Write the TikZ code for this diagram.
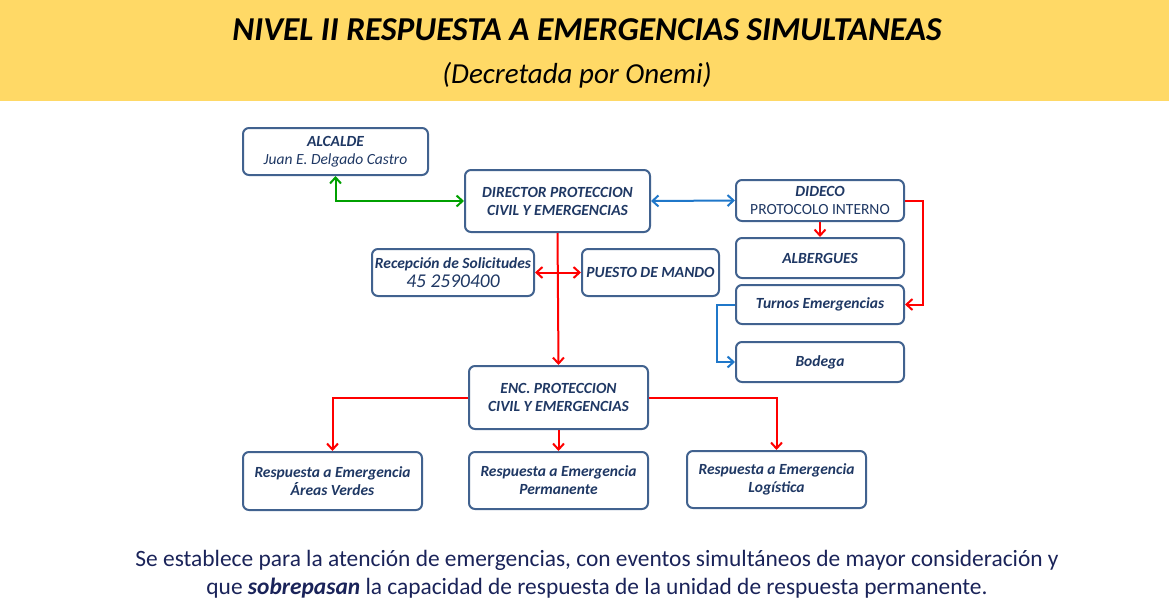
\documentclass[tikz,border=0pt]{standalone}
\usepackage{fontspec}
\setmainfont{Carlito}
\usetikzlibrary{arrows.meta, positioning}
\definecolor{hdYellow}{HTML}{FFD966}
\definecolor{boxEdge}{HTML}{41628F}
\definecolor{boxText}{HTML}{1F3864}
\definecolor{lnRed}{HTML}{FF0000}
\definecolor{lnGreen}{HTML}{00A000}
\definecolor{lnBlue}{HTML}{1F77C9}
\definecolor{bodyText}{HTML}{1A2359}
\tikzset{
  unitbox/.style  = {draw=boxEdge, line width=2pt, rounded corners=6pt, fill=white,
                     text=boxText, align=center, inner sep=0pt,
                     font=\fontsize{15.5}{18}\selectfont\bfseries\itshape},
  redline/.style  = {lnRed, line width=2pt, -{Straight Barb[length=6pt,width=11pt]}},
  redboth/.style  = {lnRed, line width=2pt, {Straight Barb[length=6pt,width=11pt]}-{Straight Barb[length=6pt,width=11pt]}},
  blueline/.style = {lnBlue, line width=2pt, -{Straight Barb[length=6pt,width=11pt]}},
  blueboth/.style = {lnBlue, line width=2pt, {Straight Barb[length=6pt,width=11pt]}-{Straight Barb[length=6pt,width=11pt]}},
  greenboth/.style= {lnGreen, line width=2pt, {Straight Barb[length=6pt,width=11pt]}-{Straight Barb[length=6pt,width=11pt]}},
}

\begin{document}
\begin{tikzpicture}[x=1pt,y=-1pt]
  \useasboundingbox (0,0) rectangle (1169,608);
  % header band
  \fill[hdYellow] (0,0) rectangle (1169,101);
  \node[font=\fontsize{33.4}{38}\selectfont\bfseries\itshape] (title) at (587,30)
    {NIVEL II RESPUESTA A EMERGENCIAS SIMULTANEAS};
  \node[font=\fontsize{29}{34}\selectfont\itshape] (subtitle) at (577,75)
    {(Decretada por Onemi)};

  % boxes
  \node[unitbox, minimum width=185pt, minimum height=47pt] (alcalde) at (335.5,151.5)
    {ALCALDE\\{\mdseries Juan E. Delgado Castro}};
  \node[unitbox, minimum width=185pt, minimum height=62pt] (director) at (557.5,201)
    {DIRECTOR PROTECCION\\CIVIL Y EMERGENCIAS};
  \node[unitbox, minimum width=168pt, minimum height=41pt] (dideco) at (820,200.5)
    {DIDECO\\{\mdseries\upshape PROTOCOLO INTERNO}};
  \node[unitbox, minimum width=168pt, minimum height=40pt] (albergues) at (820,258)
    {ALBERGUES};
  \node[unitbox, minimum width=168pt, minimum height=39pt] (turnos) at (820,304.5)
    {Turnos Emergencias};
  \node[unitbox, minimum width=168pt, minimum height=40pt] (bodega) at (820,362)
    {Bodega};
  \node[unitbox, minimum width=162pt, minimum height=47pt] (recepcion) at (453,272.5)
    {Recepción de Solicitudes\\[1pt]{\fontsize{19.5}{20}\selectfont\mdseries 45 2590400}};
  \node[unitbox, minimum width=137pt, minimum height=47pt] (puesto) at (650.5,272.5)
    {PUESTO DE MANDO};
  \node[unitbox, minimum width=179pt, minimum height=63pt] (enc) at (558.5,397.5)
    {ENC. PROTECCION\\CIVIL Y EMERGENCIAS};
  \node[unitbox, minimum width=179pt, minimum height=58pt] (verdes) at (332.5,481)
    {Respuesta a Emergencia\\Áreas Verdes};
  \node[unitbox, minimum width=179pt, minimum height=57pt] (permanente) at (558.5,480.5)
    {Respuesta a Emergencia\\Permanente};
  \node[unitbox, minimum width=179pt, minimum height=57pt] (logistica) at (776.5,479.5)
    {Respuesta a Emergencia\\Logística};

  % connectors
  \draw[greenboth] (alcalde.south) |- (director.west);
  \draw[blueboth] (director.east) -- (dideco.west);
  \draw[redline] (director.south) -- (enc.north);
  \draw[redboth] (recepcion.east) -- (puesto.west);
  \draw[redline] (dideco.south) -- (albergues.north);
  \draw[redline] (dideco.east) -- ++(18,0) |- (turnos.east);
  \draw[blueline] (turnos.west) -- ++(-18,0) |- (bodega.west);
  \draw[redline] (enc.west) -| (verdes.north);
  \draw[redline] (enc.south) -- (permanente.north);
  \draw[redline] (enc.east) -| (logistica.north);

  % footnote
  \node[text=bodyText, align=center, font=\fontsize{23.4}{28}\selectfont] (note) at (597,574)
    {Se establece para la atención de emergencias, con eventos simultáneos de mayor consideración y\\
     que {\bfseries\itshape sobrepasan} la capacidad de respuesta de la unidad de respuesta permanente.};
\end{tikzpicture}
\end{document}
